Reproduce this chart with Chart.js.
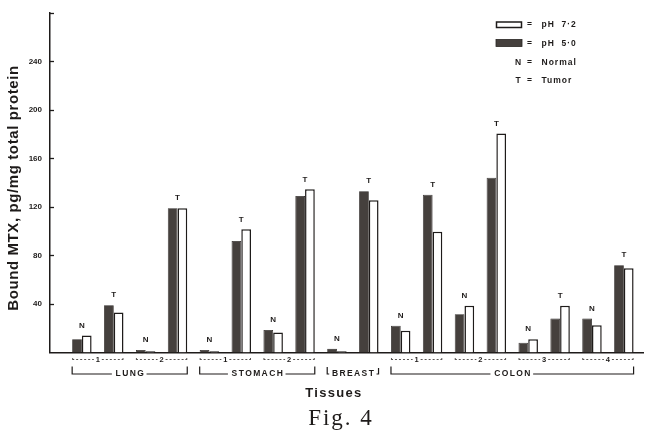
<!DOCTYPE html>
<html>
<head>
<meta charset="utf-8">
<script src="https://cdn.jsdelivr.net/npm/chart.js@4/dist/chart.umd.min.js"></script>
<style>
  html, body { margin: 0; padding: 0; background: #ffffff; }
  #wrap { width: 650px; height: 434px; position: relative; }
</style>
</head>
<body>
<div id="wrap"><canvas id="c"></canvas></div>
<script>
// ---- data ----
const categories = ['Lung 1 N','Lung 1 T','Lung 2 N','Lung 2 T','Stomach 1 N','Stomach 1 T','Stomach 2 N','Stomach 2 T','Breast N','Breast T','Colon 1 N','Colon 1 T','Colon 2 N','Colon 2 T','Colon 3 N','Colon 3 T','Colon 4 N','Colon 4 T'];
const tissueType = ['N','T','N','T','N','T','N','T','N','T','N','T','N','T','N','T','N','T'];
const ph50 = [11, 39, 2, 119, 2, 92, 18.5, 129, 3, 133, 22, 130, 31.5, 144, 8, 28, 28, 72];
const ph72 = [14, 33, 1, 119, 1, 101.5, 16.5, 134.5, 1, 125.5, 18, 99.5, 38.5, 180.5, 11, 38.5, 22.5, 69.5];
const groupNames = ['LUNG', 'STOMACH', 'BREAST', 'COLON'];
const groupBarCounts = [4, 4, 2, 8];
const subsampleLabels = ['1', '2', '1', '2', '', '1', '2', '3', '4'];
const yMax = 280;
const yStep = 40;
const legendLabels = ['pH  7·2', 'pH  5·0', 'Normal', 'Tumor'];
const legendKeys = ['', '', 'N', 'T'];
const yTitle = 'Bound MTX, pg/mg total protein';
const xTitle = 'Tissues';
const figCaption = 'Fig. 4';

// ---- styles ----
const INK = '#1e1b1a';
const DARK = '#45403d';
const CAT_PCT = 0.61;

const overlay = {
  id: 'overlay',
  afterDraw(chart) {
    const ctx = chart.ctx;
    const xs = chart.scales.x, ys = chart.scales.y;
    const area = chart.chartArea;
    ctx.save();
    ctx.fillStyle = INK;
    ctx.strokeStyle = INK;

    // inward y ticks
    ctx.lineWidth = 1.3;
    for (let v = yStep; v <= yMax; v += yStep) {
      const y = Math.round(ys.getPixelForValue(v)) + 0.5;
      ctx.beginPath();
      ctx.moveTo(area.left, y);
      ctx.lineTo(area.left + 4, y);
      ctx.stroke();
    }

    // N / T labels
    ctx.font = 'bold 8px "Liberation Sans", Arial, sans-serif';
    ctx.textAlign = 'center';
    ctx.textBaseline = 'bottom';
    tissueType.forEach((t, i) => {
      const top = Math.max(ph50[i], ph72[i]);
      ctx.fillText(t, xs.getPixelForValue(i), ys.getPixelForValue(top) - 6);
    });

    // sub-sample dashed lines
    const half = CAT_PCT / 2;
    ctx.font = 'bold 7.5px "Liberation Sans", Arial, sans-serif';
    ctx.textBaseline = 'middle';
    const yd = area.bottom + 7;
    subsampleLabels.forEach((lab, k) => {
      if (!lab) return;
      const x0 = xs.getPixelForValue(2 * k - half);
      const x1 = xs.getPixelForValue(2 * k + 1 + half);
      const xm = (x0 + x1) / 2;
      ctx.lineWidth = 0.9;
      ctx.strokeStyle = '#4a4543';
      ctx.setLineDash([2, 2]);
      ctx.beginPath();
      ctx.moveTo(x0, yd); ctx.lineTo(xm - 4, yd);
      ctx.moveTo(xm + 4, yd); ctx.lineTo(x1, yd);
      ctx.stroke();
      ctx.setLineDash([]);
      ctx.beginPath();
      ctx.moveTo(x0, yd - 1.5); ctx.lineTo(x0 + 1.5, yd);
      ctx.moveTo(x1, yd - 1.5); ctx.lineTo(x1 - 1.5, yd);
      ctx.stroke();
      ctx.fillText(lab, xm, yd);
    });

    // group brackets
    ctx.strokeStyle = INK;
    ctx.lineWidth = 1.2;
    ctx.font = 'bold 8.5px "Liberation Sans", Arial, sans-serif';
    ctx.letterSpacing = '1.4px';
    const yb = area.bottom + 21.5;
    let start = 0;
    groupNames.forEach((name, g) => {
      const n = groupBarCounts[g];
      const x0 = xs.getPixelForValue(start - half);
      const x1 = xs.getPixelForValue(start + n - 1 + half);
      const xm = (x0 + x1) / 2;
      const w = ctx.measureText(name).width;
      const small = name === 'BREAST';
      ctx.beginPath();
      ctx.moveTo(x0, yb - (small ? 7 : 7.5));
      ctx.lineTo(x0, yb);
      ctx.lineTo(Math.max(x0 + 2, xm - w / 2 - 3), yb);
      ctx.moveTo(Math.min(x1 - 2, xm + w / 2 + 2), yb);
      ctx.lineTo(x1, yb);
      ctx.lineTo(x1, yb - (small ? 6 : 7.5));
      ctx.stroke();
      ctx.textBaseline = 'middle';
      ctx.fillText(name, xm + 0.7, yb);
      start += n;
    });

    // x title and caption
    ctx.font = 'bold 13px "Liberation Sans", Arial, sans-serif';
    ctx.letterSpacing = '1.3px';
    ctx.fillText(xTitle, 334, 393);
    ctx.font = '23px "Liberation Serif", "Times New Roman", serif';
    ctx.letterSpacing = '2px';
    ctx.textBaseline = 'alphabetic';
    ctx.fillText(figCaption, 341, 425);

    // y title
    ctx.save();
    ctx.translate(14, 188);
    ctx.rotate(-Math.PI / 2);
    ctx.font = 'bold 15px "Liberation Sans", Arial, sans-serif';
    ctx.letterSpacing = '0.6px';
    ctx.textBaseline = 'middle';
    ctx.textAlign = 'center';
    ctx.fillText(yTitle, 0, 0);
    ctx.restore();

    // legend
    ctx.letterSpacing = '1px';
    ctx.font = 'bold 8.5px "Liberation Sans", Arial, sans-serif';
    ctx.textBaseline = 'middle';
    const rows = [25, 43.5, 62.5, 80.5];
    ctx.lineWidth = 1.5;
    ctx.strokeStyle = INK;
    ctx.fillStyle = '#fff';
    ctx.fillRect(496.5, 22, 25, 5.5);
    ctx.strokeRect(496.5, 22, 25, 5.5);
    ctx.fillStyle = DARK;
    ctx.fillRect(496, 39.5, 26, 7);
    ctx.strokeStyle = '#2a2624';
    ctx.lineWidth = 0.8;
    ctx.strokeRect(496, 39.5, 26, 7);
    ctx.fillStyle = INK;
    rows.forEach((y, r) => {
      ctx.textAlign = 'center';
      ctx.fillText('=', 530, y);
      if (legendKeys[r]) ctx.fillText(legendKeys[r], 518.5, y);
      ctx.textAlign = 'left';
      ctx.fillText(legendLabels[r], 541.5, y);
    });

    ctx.restore();
  }
};

new Chart(document.getElementById('c'), {
  type: 'bar',
  data: {
    labels: categories,
    datasets: [
      {
        label: 'pH 5·0',
        data: ph50.map((v, i) => ({ x: i, y: v })),
        backgroundColor: DARK,
        borderColor: '#2a2624',
        borderWidth: 0.8,
        borderSkipped: 'start'
      },
      {
        label: 'pH 7·2',
        data: ph72.map((v, i) => ({ x: i, y: v })),
        backgroundColor: '#ffffff',
        borderColor: INK,
        borderWidth: 1.5,
        borderSkipped: 'start'
      }
    ]
  },
  options: {
    responsive: true,
    maintainAspectRatio: false,
    animation: false,
    devicePixelRatio: 1,
    layout: { padding: { top: 12.5, right: 7, left: 0, bottom: 0 } },
    categoryPercentage: CAT_PCT,
    barPercentage: 1.0,
    plugins: { legend: { display: false }, tooltip: { enabled: false } },
    scales: {
      x: {
        type: 'linear',
        min: -1,
        max: 17.6,
        offset: false,
        grid: { display: false, drawTicks: false },
        ticks: { display: false },
        border: { display: true, color: INK, width: 1.5 },
        afterFit: s => { s.height = 81.5; }
      },
      y: {
        min: 0,
        max: yMax,
        grid: { display: false, drawTicks: false },
        border: { display: true, color: INK, width: 1.5 },
        ticks: {
          stepSize: yStep,
          padding: 8,
          color: INK,
          font: { family: '"Liberation Sans", Arial, sans-serif', size: 8, weight: 'bold' },
          callback: v => (v === 0 || v === yMax) ? '' : v
        },
        afterFit: s => { s.width = 50; }
      }
    }
  },
  plugins: [overlay]
});
</script>
</body>
</html>
